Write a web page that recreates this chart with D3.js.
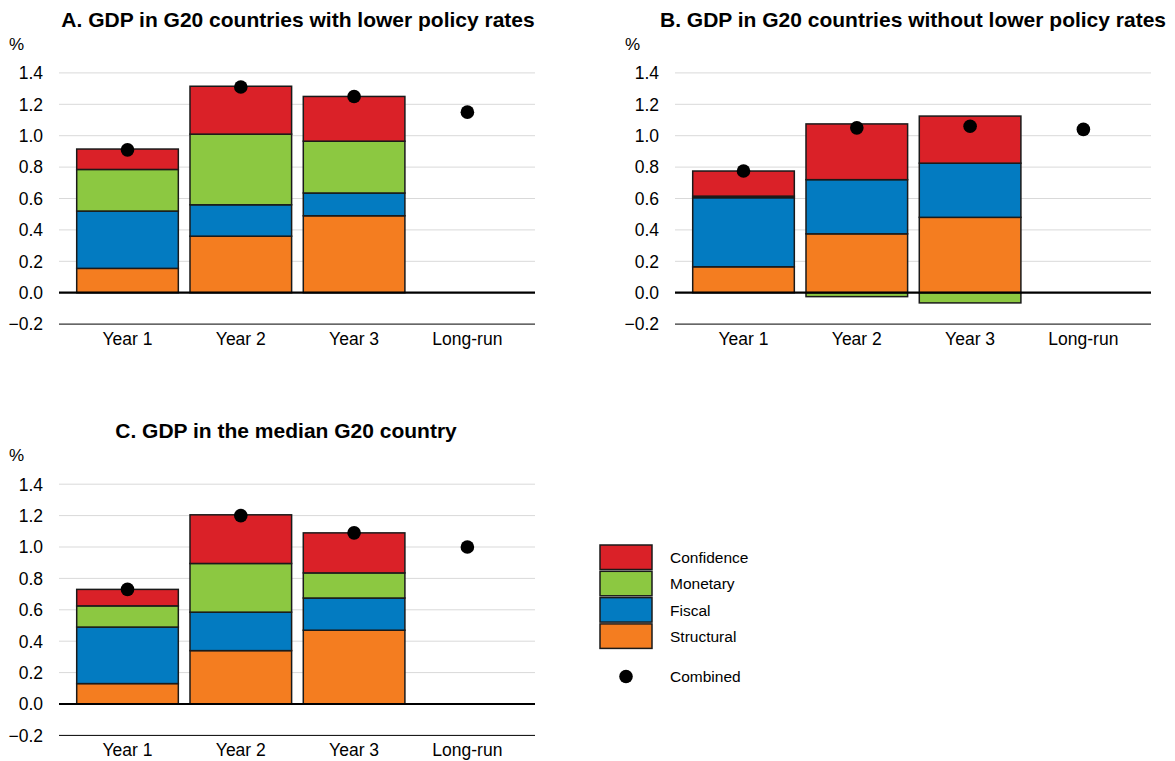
<!DOCTYPE html>
<html>
<head>
<meta charset="utf-8">
<script src="https://cdn.jsdelivr.net/npm/d3@7"></script>
<style>
  body { margin: 0; background: #fff; }
  text { font-family: "Liberation Sans", Arial, sans-serif; fill: #000; }
</style>
</head>
<body>
<div id="chart"></div>
<script>
// Categories and series
const categories = ["Year 1", "Year 2", "Year 3", "Long-run"];
const seriesKeys = ["Structural", "Fiscal", "Monetary", "Confidence"];
const legendOrder = ["Confidence", "Monetary", "Fiscal", "Structural"];
const yTicks = [-0.2, 0, 0.2, 0.4, 0.6, 0.8, 1.0, 1.2, 1.4];

// Panel A: with lower policy rates
const aStructural = [0.155, 0.36, 0.49, 0];
const aFiscal     = [0.365, 0.20, 0.145, 0];
const aMonetary   = [0.265, 0.45, 0.33, 0];
const aConfidence = [0.13, 0.305, 0.285, 0];
const aCombined   = [0.91, 1.31, 1.25, 1.15];

// Panel B: without lower policy rates
const bStructural = [0.165, 0.375, 0.48, 0];
const bFiscal     = [0.44, 0.345, 0.345, 0];
const bMonetary   = [0.01, -0.025, -0.065, 0];
const bConfidence = [0.16, 0.355, 0.30, 0];
const bCombined   = [0.775, 1.05, 1.06, 1.04];

// Panel C: median G20 country
const cStructural = [0.13, 0.34, 0.47, 0];
const cFiscal     = [0.36, 0.245, 0.205, 0];
const cMonetary   = [0.135, 0.31, 0.16, 0];
const cConfidence = [0.105, 0.31, 0.255, 0];
const cCombined   = [0.73, 1.20, 1.09, 1.00];

const colors = {
  Confidence: "#da2128",
  Monetary: "#8cc841",
  Fiscal: "#037bc1",
  Structural: "#f47d20"
};

const svg = d3.select("#chart").append("svg")
  .attr("width", 1175)
  .attr("height", 761);

function buildRows(s, f, m, c) {
  return categories.map((cat, i) => ({
    cat: cat, Structural: s[i], Fiscal: f[i], Monetary: m[i], Confidence: c[i]
  }));
}

function drawPanel(opts) {
  const x0 = opts.left, x1 = opts.left + 476;
  const y = d3.scaleLinear().domain([-0.2, 1.4]).range([opts.zeroY + 31.4, opts.zeroY - 219.8]);
  const x = d3.scaleBand().domain(categories).range([x0 + 17.7, x1 - 16.8]).paddingInner(0.103);

  const g = svg.append("g");

  // Title
  g.append("text")
    .attr("x", opts.titleX)
    .attr("y", opts.zeroY - 266)
    .attr("text-anchor", "middle")
    .attr("font-size", "21px")
    .attr("font-weight", "bold")
    .text(opts.title);

  g.append("text")
    .attr("x", opts.left - 50)
    .attr("y", opts.zeroY - 243)
    .attr("font-size", "17px")
    .text("%");

  // Gridlines
  g.selectAll(".grid")
    .data(yTicks.filter(d => d > 0))
    .join("line")
    .attr("x1", x0).attr("x2", x1)
    .attr("y1", d => y(d)).attr("y2", d => y(d))
    .attr("stroke", "#d9d9d9")
    .attr("stroke-width", 1);

  // Bottom line at -0.2
  g.append("line")
    .attr("x1", x0).attr("x2", x1)
    .attr("y1", y(-0.2)).attr("y2", y(-0.2))
    .attr("stroke", "#000").attr("stroke-width", 1);

  // Y tick labels
  g.selectAll(".ylab")
    .data(yTicks)
    .join("text")
    .attr("x", x0 - 16)
    .attr("y", d => y(d) + 6.3)
    .attr("text-anchor", "end")
    .attr("font-size", "17.5px")
    .text(d => d3.format(".1f")(d));

  // Stacked bars
  const rows = buildRows(opts.s, opts.f, opts.m, opts.c);
  const stacked = d3.stack().keys(seriesKeys).offset(d3.stackOffsetDiverging)(rows);

  g.selectAll(".layer")
    .data(stacked)
    .join("g")
    .attr("fill", d => colors[d.key])
    .selectAll("rect")
    .data(d => d.filter(p => p[1] !== p[0]))
    .join("rect")
    .attr("x", d => x(d.data.cat))
    .attr("width", x.bandwidth())
    .attr("y", d => y(Math.max(d[0], d[1])))
    .attr("height", d => Math.abs(y(d[0]) - y(d[1])))
    .attr("stroke", "#1a1a1a")
    .attr("stroke-width", 1.5);

  // Zero line
  g.append("line")
    .attr("x1", x0).attr("x2", x1)
    .attr("y1", y(0)).attr("y2", y(0))
    .attr("stroke", "#000").attr("stroke-width", 2.2);

  // Combined dots
  g.selectAll(".dot")
    .data(categories.map((cat, i) => ({ cat: cat, v: opts.combined[i] })))
    .join("circle")
    .attr("cx", d => x(d.cat) + x.bandwidth() / 2)
    .attr("cy", d => y(d.v))
    .attr("r", 6.8)
    .attr("fill", "#000");

  // X labels
  g.selectAll(".xlab")
    .data(categories)
    .join("text")
    .attr("x", d => x(d) + x.bandwidth() / 2)
    .attr("y", y(-0.2) + 21)
    .attr("text-anchor", "middle")
    .attr("font-size", "17.5px")
    .text(d => d);
}

drawPanel({
  title: "A. GDP in G20 countries with lower policy rates",
  left: 59, zeroY: 292.7, titleX: 298,
  s: aStructural, f: aFiscal, m: aMonetary, c: aConfidence, combined: aCombined
});

drawPanel({
  title: "B. GDP in G20 countries without lower policy rates",
  left: 675, zeroY: 292.7, titleX: 913,
  s: bStructural, f: bFiscal, m: bMonetary, c: bConfidence, combined: bCombined
});

drawPanel({
  title: "C. GDP in the median G20 country",
  left: 59, zeroY: 704, titleX: 286,
  s: cStructural, f: cFiscal, m: cMonetary, c: cConfidence, combined: cCombined
});

// Legend
const legend = svg.append("g").attr("transform", "translate(600,545)");
legend.selectAll("rect")
  .data(legendOrder)
  .join("rect")
  .attr("x", 0)
  .attr("y", (d, i) => i * 26.3)
  .attr("width", 52)
  .attr("height", 24.5)
  .attr("fill", d => colors[d])
  .attr("stroke", "#1a1a1a")
  .attr("stroke-width", 1.5);

legend.selectAll(".ltext")
  .data(legendOrder)
  .join("text")
  .attr("x", 70)
  .attr("y", (d, i) => i * 26.3 + 18)
  .attr("font-size", "15.5px")
  .text(d => d);

legend.append("circle")
  .attr("cx", 26).attr("cy", 131.5).attr("r", 6.8).attr("fill", "#000");
legend.append("text")
  .attr("x", 70).attr("y", 137)
  .attr("font-size", "15.5px")
  .text("Combined");
</script>
</body>
</html>
